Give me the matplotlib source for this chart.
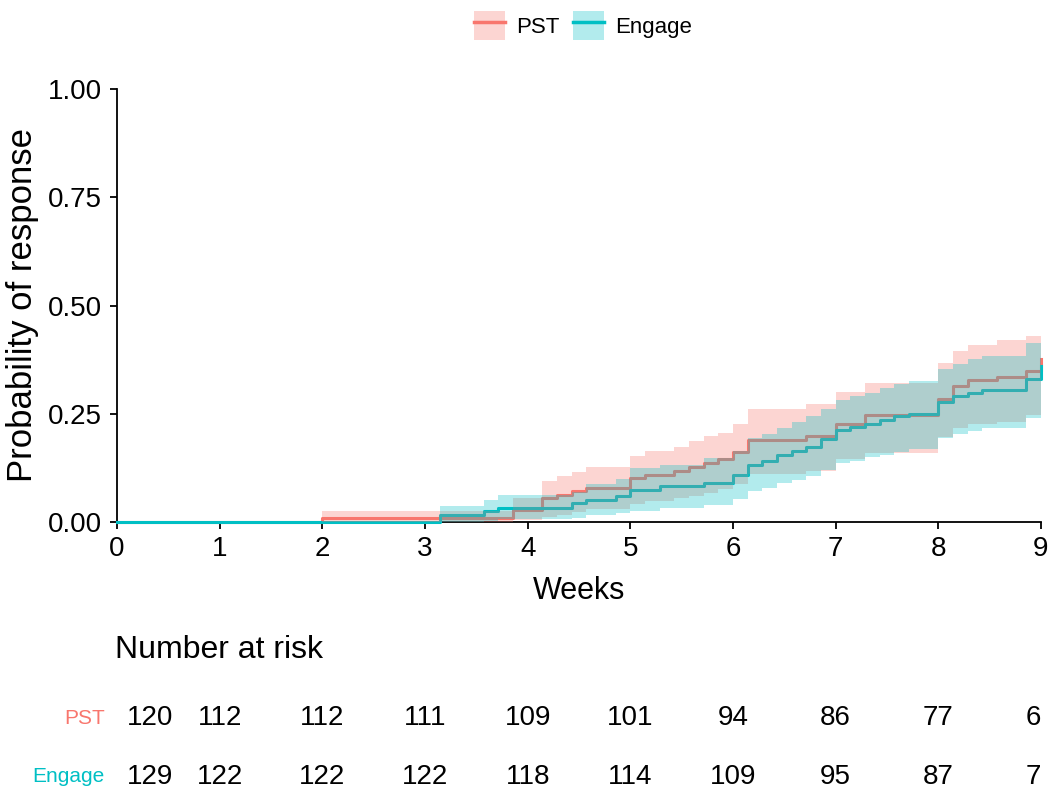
import matplotlib
matplotlib.use("Agg")
import matplotlib.pyplot as plt
import matplotlib.transforms as mtransforms
from matplotlib import font_manager
from matplotlib.patches import Patch
from matplotlib.lines import Line2D
import numpy as np

# step curves (time in days, cumulative probability of response)
pst_days = [0, 14, 27, 29, 30, 31, 32, 35, 36, 38, 39, 40, 41, 42, 43, 47, 49, 51, 56, 57, 58, 60, 62, 63]
pst_prob = [0, .0083, .027, .055, .063, .071, .079, .101, .109, .117, .127, .137, .145, .162, .190,
            .198, .227, .247, .284, .315, .328, .335, .348, .377]
pst_upper = [0, .025, .055, .094, .106, .116, .127, .153, .165, .173, .186, .198, .206, .227, .260,
             .272, .300, .322, .367, .394, .408, .420, .429, .461]
pst_lower = [0, .0005, .005, .011, .016, .022, .030, .041, .049, .055, .061, .068, .076, .088, .110,
             .118, .145, .160, .197, .218, .226, .231, .247, .276]

eng_days = [0, 22, 25, 26, 31, 32, 34, 35, 37, 40, 42, 43, 44, 45, 46, 47, 48, 49, 50, 51, 52, 53, 54,
            56, 57, 58, 59, 62, 63]
eng_prob = [0, .016, .025, .033, .043, .050, .059, .075, .083, .091, .108, .132, .141, .155, .165, .174,
            .192, .213, .219, .227, .236, .244, .250, .277, .290, .297, .306, .331, .361]
eng_upper = [0, .038, .051, .062, .070, .087, .099, .124, .132, .147, .164, .195, .203, .218, .231, .245,
             .260, .282, .290, .299, .310, .318, .326, .354, .364, .376, .383, .414, .437]
eng_lower = [0, .001, .003, .006, .010, .016, .020, .026, .032, .040, .053, .072, .078, .091, .097, .107,
             .120, .136, .141, .151, .154, .162, .168, .195, .203, .210, .216, .241, .267]

# number at risk table
risk_weeks = [0, 1, 2, 3, 4, 5, 6, 7, 8, 9]
pst_risk = [120, 112, 112, 111, 109, 101, 94, 86, 77, 6]
eng_risk = [129, 122, 122, 122, 118, 114, 109, 95, 87, 7]

pst_col = "#F8766D"
eng_col = "#00BFC4"

# narrow font if we have it (the original looks like Arial Narrow)
names = {f.name for f in font_manager.fontManager.ttflist}
if "Liberation Sans Narrow" in names:
    narrow = ["Liberation Sans Narrow", "DejaVu Sans"]
    num_size, lab_size, leg_size = 24, 18, 18
else:
    narrow = ["Liberation Sans", "DejaVu Sans"]
    num_size, lab_size, leg_size = 20, 15, 16
regular = ["Liberation Sans", "DejaVu Sans"]

fig = plt.figure(figsize=(10.5, 7.97), dpi=100)
ax = fig.add_axes([117 / 1050, 1 - 522 / 797, 924 / 1050, 433 / 797])

series = [
    (pst_days, pst_prob, pst_lower, pst_upper, pst_col),
    (eng_days, eng_prob, eng_lower, eng_upper, eng_col),
]
# lines first, ribbons on top (as in the original)
for days, prob, lo, hi, col in series:
    w = np.array(days) / 7
    ax.step(w, prob, where="post", color=col, lw=2.2, zorder=3, clip_on=False)
for days, prob, lo, hi, col in series:
    w = np.array(days) / 7
    ax.fill_between(w, lo, hi, step="post", color=col, alpha=0.3, lw=0, zorder=4)

ax.set_xlim(0, 9)
ax.set_ylim(0, 1)
ax.set_xticks(risk_weeks)
ax.set_yticks([0, 0.25, 0.5, 0.75, 1.0])
ax.set_yticklabels(["0.00", "0.25", "0.50", "0.75", "1.00"])
for lab in ax.get_xticklabels() + ax.get_yticklabels():
    lab.set_family(narrow)
    lab.set_fontsize(num_size)
ax.tick_params(length=5, width=1.3, color="black", labelcolor="black")
ax.tick_params(axis="y", pad=6)
ax.tick_params(axis="x", pad=5)
for s in ["top", "right"]:
    ax.spines[s].set_visible(False)
for s in ["left", "bottom"]:
    ax.spines[s].set_linewidth(1.3)
ax.set_xlabel("Weeks", fontsize=22, family=regular, labelpad=10)
ax.set_ylabel("Probability of response", fontsize=25, family=regular, labelpad=6)

# legend at the top
handles = [
    (Patch(facecolor=pst_col, alpha=0.3, lw=0), Line2D([], [], color=pst_col, lw=2.5)),
    (Patch(facecolor=eng_col, alpha=0.3, lw=0), Line2D([], [], color=eng_col, lw=2.5)),
]
fig.legend(handles, ["PST", "Engage"], loc="center", bbox_to_anchor=(0.555, 0.968), ncol=2,
           frameon=False, prop={"family": narrow, "size": leg_size}, handlelength=1.4, handleheight=1.6,
           handletextpad=0.5, columnspacing=0.6, borderpad=0)

# risk table
trans = mtransforms.blended_transform_factory(ax.transData, fig.transFigure)
fig.text(115 / 1050, 1 - 650 / 797, "Number at risk", fontsize=23, family=regular, va="center")
rows = [(pst_risk, "PST", pst_col, 1 - 718 / 797), (eng_risk, "Engage", eng_col, 1 - 777 / 797)]
for counts, name, col, yy in rows:
    fig.text(105 / 1050, yy, name, color=col, fontsize=lab_size,
             family=narrow, ha="right", va="center")
    for i, (wk, n) in enumerate(zip(risk_weeks, counts)):
        if i == 0:
            ax.annotate(str(n), (wk, yy), xycoords=trans, xytext=(7, 0), textcoords="offset points",
                        ha="left", va="center", fontsize=num_size, family=narrow, annotation_clip=False)
        elif i == len(risk_weeks) - 1:
            ax.annotate(str(n), (wk, yy), xycoords=trans, ha="right", va="center",
                        fontsize=num_size, family=narrow, annotation_clip=False)
        else:
            ax.annotate(str(n), (wk, yy), xycoords=trans, ha="center", va="center",
                        fontsize=num_size, family=narrow, annotation_clip=False)

fig.savefig("out.png", dpi=100)
